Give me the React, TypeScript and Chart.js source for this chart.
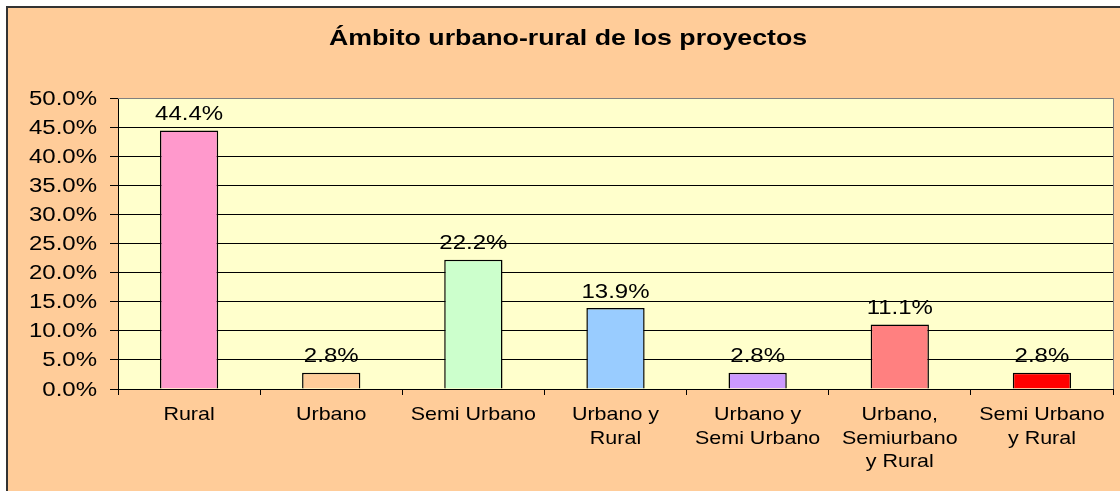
import { useEffect, useRef } from 'react';
import { Chart, registerables } from 'chart.js';

Chart.register(...registerables);

const chartTitle = 'Ámbito urbano-rural de los proyectos';
const categories: string[][] = [
  ['Rural'],
  ['Urbano'],
  ['Semi Urbano'],
  ['Urbano y', 'Rural'],
  ['Urbano y', 'Semi Urbano'],
  ['Urbano,', 'Semiurbano', 'y Rural'],
  ['Semi Urbano', 'y Rural'],
];
const values: number[] = [44.4, 2.8, 22.2, 13.9, 2.8, 11.1, 2.8];
const barColors: string[] = ['#FF99CC', '#FFCC99', '#CCFFCC', '#99CCFF', '#CC99FF', '#FF8080', '#FF0000'];
const yMin = 0;
const yMax = 50;
const yStep = 5;

const FONT = "'Liberation Sans', Arial, sans-serif";

function stretchText(
  ctx: CanvasRenderingContext2D,
  text: string,
  x: number,
  y: number,
  font: string,
  sx: number,
  align: 'left' | 'center' | 'right'
) {
  ctx.save();
  ctx.font = font;
  ctx.fillStyle = '#000';
  ctx.textBaseline = 'middle';
  ctx.textAlign = 'left';
  const w = ctx.measureText(text).width * sx;
  const left = align === 'center' ? x - w / 2 : align === 'right' ? x - w : x;
  ctx.translate(left, y);
  ctx.scale(sx, 1);
  ctx.fillText(text, 0, 0);
  ctx.restore();
}

const backgroundPlugin = {
  id: 'bgPlugin',
  beforeDraw(chart: any) {
    const { ctx, width, height, chartArea } = chart;
    ctx.save();
    ctx.fillStyle = '#FFFFFF';
    ctx.fillRect(0, 0, width, height);
    ctx.fillStyle = '#FFCC99';
    ctx.fillRect(6, 6, width - 6, height - 6);
    ctx.fillStyle = '#333333';
    ctx.fillRect(6, 6, 2, height - 6);
    ctx.fillRect(6, 6, width - 6, 2);
    ctx.fillStyle = '#FFFFCC';
    ctx.fillRect(chartArea.left, chartArea.top, chartArea.right - chartArea.left, chartArea.bottom - chartArea.top);
    ctx.restore();
  },
  beforeDatasetsDraw(chart: any) {
    const { ctx, chartArea } = chart;
    ctx.save();
    ctx.strokeStyle = '#808080';
    ctx.lineWidth = 1;
    ctx.beginPath();
    ctx.moveTo(chartArea.left, Math.round(chartArea.top) + 0.5);
    ctx.lineTo(Math.round(chartArea.right) + 0.5, Math.round(chartArea.top) + 0.5);
    ctx.lineTo(Math.round(chartArea.right) + 0.5, chartArea.bottom);
    ctx.stroke();
    ctx.restore();
  },
  afterDraw(chart: any) {
    const { ctx } = chart;
    const xs = chart.scales.x;
    const ys = chart.scales.y;
    // title
    stretchText(ctx, chartTitle, 568, 39, `bold 22px ${FONT}`, 1.215, 'center');
    // y labels
    ys.ticks.forEach((t: any) => {
      const py = ys.getPixelForValue(t.value);
      stretchText(ctx, t.value.toFixed(1) + '%', 97, py + 1, `20px ${FONT}`, 1.2, 'right');
    });
    // x labels
    categories.forEach((lines, i) => {
      const px = xs.getPixelForValue(i);
      lines.forEach((ln, j) => {
        stretchText(ctx, ln, px, xs.top + 26 + j * 23.3, `19px ${FONT}`, 1.13, 'center');
      });
    });
    // data labels
    const meta = chart.getDatasetMeta(0);
    meta.data.forEach((bar: any, i: number) => {
      stretchText(ctx, values[i].toFixed(1) + '%', bar.x, bar.y - 16, `20px ${FONT}`, 1.2, 'center');
    });
  },
};

export default function App() {
  const ref = useRef<HTMLCanvasElement | null>(null);
  useEffect(() => {
    document.body.style.margin = '0';
    if (!ref.current) return;
    const chart = new Chart(ref.current, {
      type: 'bar',
      data: {
        labels: categories,
        datasets: [
          {
            data: values,
            backgroundColor: barColors,
            borderColor: '#000000',
            borderWidth: 1.5,
            barPercentage: 0.41,
            categoryPercentage: 1,
          },
        ],
      },
      options: {
        responsive: false,
        animation: false,
        devicePixelRatio: 1,
        layout: { padding: { top: 98, right: 7, left: 0, bottom: 0 } },
        plugins: {
          legend: { display: false },
          title: { display: false },
          tooltip: { enabled: false },
        },
        scales: {
          x: {
            offset: true,
            ticks: { display: false },
            grid: {
              offset: true,
              drawOnChartArea: false,
              drawTicks: true,
              tickLength: 6,
              tickColor: '#000',
              color: '#000',
            },
            border: { display: true, color: '#000', width: 1 },
            afterFit: (s: any) => {
              s.height = 102;
            },
          },
          y: {
            min: yMin,
            max: yMax,
            ticks: { display: false, stepSize: yStep },
            grid: {
              color: (c: any) => (c.tick && c.tick.value === yMax ? '#808080' : '#000'),
              tickColor: '#000',
              drawTicks: true,
              tickLength: 8,
              lineWidth: 1,
            },
            border: { display: true, color: '#000', width: 1 },
            afterFit: (s: any) => {
              s.width = 118;
            },
          },
        },
      },
      plugins: [backgroundPlugin],
    });
    return () => chart.destroy();
  }, []);
  return (
    <div style={{ width: 1120, height: 491 }}>
      <canvas ref={ref} width={1120} height={491} style={{ display: 'block' }} />
    </div>
  );
}
